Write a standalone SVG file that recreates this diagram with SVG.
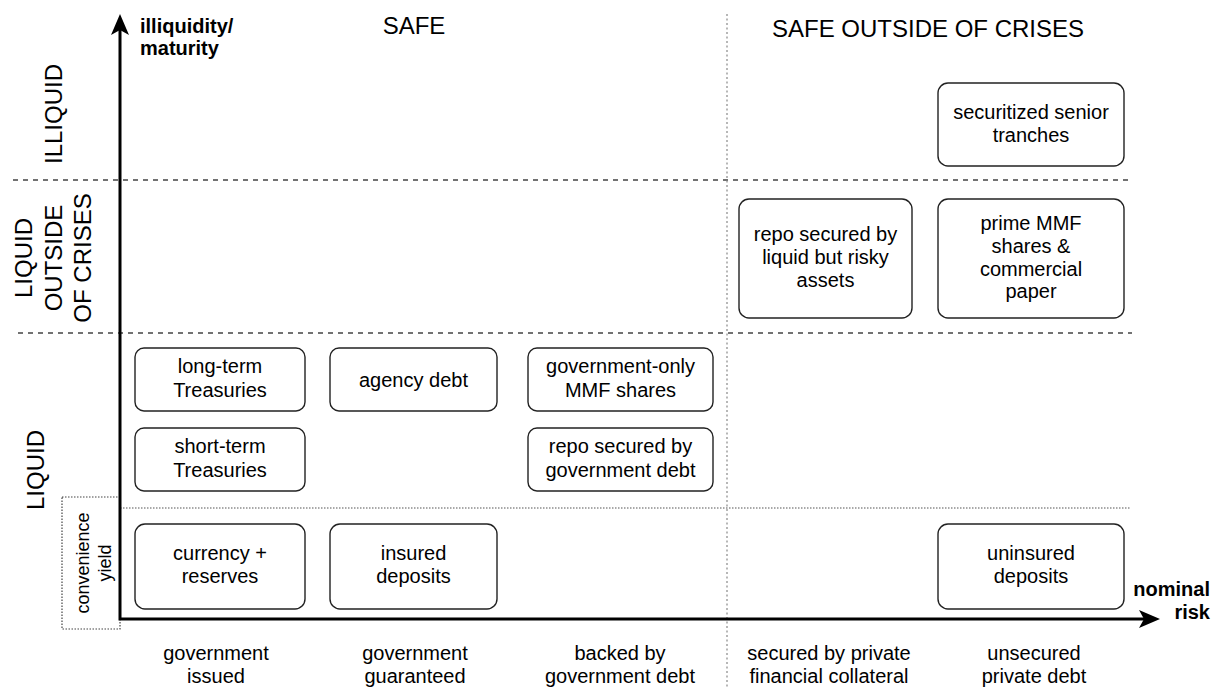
<svg xmlns="http://www.w3.org/2000/svg" width="1213" height="687" viewBox="0 0 1213 687">
<style>
text{font-family:"Liberation Sans",Arial,Helvetica,sans-serif;fill:#000}
.box{fill:#fff;stroke:#222;stroke-width:1.4}
.bt{font-size:20px;text-anchor:middle}
.hdr{font-size:24px;text-anchor:middle}
.ax{font-size:20px;font-weight:bold}
.dash{fill:none;stroke:#444;stroke-width:1.4;stroke-dasharray:5 5}
.dot{fill:none;stroke:#555;stroke-width:1.2;stroke-dasharray:1.5 1.5}
.axis{fill:none;stroke:#000;stroke-width:3}
</style>
<defs>
<marker id="arr" viewBox="0 0 21 18" refX="5" refY="9" markerWidth="21" markerHeight="18" markerUnits="userSpaceOnUse" orient="auto-start-reverse">
<path d="M0,0 L21,9 L0,18 L5,9 Z" fill="#000"/>
</marker>
</defs>
<rect width="1213" height="687" fill="#fff"/>

<g id="grid">
<line class="dash" x1="13" y1="180" x2="1132" y2="180"/>
<line class="dash" x1="18" y1="333" x2="1132" y2="333"/>
<line class="dot" x1="120" y1="508" x2="1130" y2="508" stroke="#333"/>
<line class="dot" x1="727" y1="14" x2="727" y2="687" style="stroke-dasharray:2 2.5;stroke:#888"/>
<rect id="convenience-box" class="dot" x="62" y="497" width="58" height="132" style="stroke:#444"/>
</g>

<g id="headers">
<text class="hdr" x="414" y="34">SAFE</text>
<text class="hdr" x="928" y="37">SAFE OUTSIDE OF CRISES</text>
<text class="hdr" transform="translate(62,114) rotate(-90)">ILLIQUID</text>
<g transform="translate(0,258) rotate(-90)">
<text class="hdr" x="0" y="32">LIQUID</text>
<text class="hdr" x="0" y="62">OUTSIDE</text>
<text class="hdr" x="0" y="91">OF CRISES</text>
</g>
<text class="hdr" transform="translate(44,470) rotate(-90)">LIQUID</text>
<g transform="translate(0,563) rotate(-90)">
<text x="0" y="89" style="font-size:18px;text-anchor:middle">convenience</text>
<text x="0" y="111" style="font-size:18px;text-anchor:middle">yield</text>
</g>
</g>

<g id="connectors">
<path class="axis" d="M120,30 L120,619 L1144,619" marker-start="url(#arr)" marker-end="url(#arr)"/>
</g>

<g id="axis-labels">
<text class="ax" x="140" y="33">illiquidity/</text>
<text class="ax" x="140" y="55">maturity</text>
<text class="ax" x="1210" y="596" text-anchor="end">nominal</text>
<text class="ax" x="1210" y="619" text-anchor="end">risk</text>
</g>

<g id="column-labels">
<text class="bt" x="216" y="660">government</text>
<text class="bt" x="216" y="683">issued</text>
<text class="bt" x="415" y="660">government</text>
<text class="bt" x="415" y="683">guaranteed</text>
<text class="bt" x="620" y="660">backed by</text>
<text class="bt" x="620" y="683">government debt</text>
<text class="bt" x="829" y="660">secured by private</text>
<text class="bt" x="829" y="683">financial collateral</text>
<text class="bt" x="1034" y="660">unsecured</text>
<text class="bt" x="1034" y="683">private debt</text>
</g>

<g id="long-term-treasuries">
<rect class="box" x="135" y="348" width="170" height="63" rx="9"/>
<text class="bt" x="220" y="373">long-term</text>
<text class="bt" x="220" y="396.5">Treasuries</text>
</g>
<g id="short-term-treasuries">
<rect class="box" x="135" y="428" width="170" height="63" rx="9"/>
<text class="bt" x="220" y="453">short-term</text>
<text class="bt" x="220" y="476.5">Treasuries</text>
</g>
<g id="currency-reserves">
<rect class="box" x="135" y="524" width="170" height="85" rx="10"/>
<text class="bt" x="220" y="560">currency +</text>
<text class="bt" x="220" y="583">reserves</text>
</g>
<g id="agency-debt">
<rect class="box" x="330" y="348" width="167" height="63" rx="9"/>
<text class="bt" x="413.5" y="386.5">agency debt</text>
</g>
<g id="insured-deposits">
<rect class="box" x="330" y="524" width="167" height="85" rx="10"/>
<text class="bt" x="413.5" y="560">insured</text>
<text class="bt" x="413.5" y="583">deposits</text>
</g>
<g id="government-only-mmf">
<rect class="box" x="528" y="348" width="185" height="63" rx="9"/>
<text class="bt" x="620.5" y="373">government-only</text>
<text class="bt" x="620.5" y="396.5">MMF shares</text>
</g>
<g id="repo-government">
<rect class="box" x="528" y="428" width="185" height="63" rx="9"/>
<text class="bt" x="620.5" y="453">repo secured by</text>
<text class="bt" x="620.5" y="476.5">government debt</text>
</g>
<g id="repo-risky">
<rect class="box" x="739" y="199" width="173" height="119" rx="10"/>
<text class="bt" x="825.5" y="241">repo secured by</text>
<text class="bt" x="825.5" y="264">liquid but risky</text>
<text class="bt" x="825.5" y="287">assets</text>
</g>
<g id="prime-mmf">
<rect class="box" x="938" y="199" width="186" height="119" rx="10"/>
<text class="bt" x="1031" y="230">prime MMF</text>
<text class="bt" x="1031" y="253">shares &amp;</text>
<text class="bt" x="1031" y="276">commercial</text>
<text class="bt" x="1031" y="298">paper</text>
</g>
<g id="securitized-senior-tranches">
<rect class="box" x="938" y="83" width="186" height="83" rx="10"/>
<text class="bt" x="1031" y="119">securitized senior</text>
<text class="bt" x="1031" y="142">tranches</text>
</g>
<g id="uninsured-deposits">
<rect class="box" x="938" y="524" width="186" height="85" rx="10"/>
<text class="bt" x="1031" y="560">uninsured</text>
<text class="bt" x="1031" y="583">deposits</text>
</g>
</svg>
